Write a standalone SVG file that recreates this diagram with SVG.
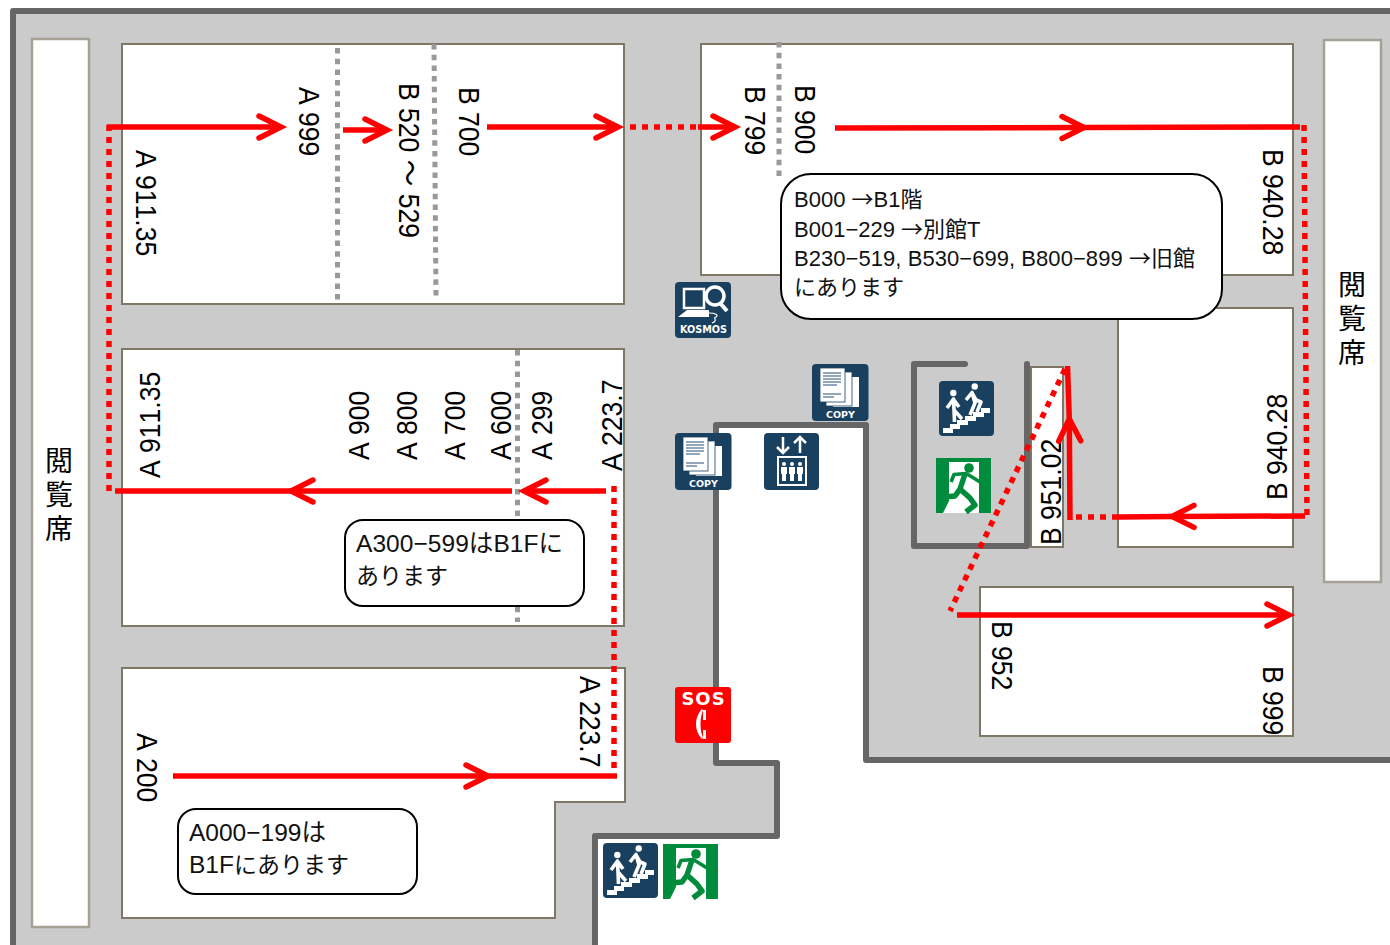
<svg xmlns="http://www.w3.org/2000/svg" width="1390" height="945" viewBox="0 0 1390 945">
<style>
.room{fill:#fff;stroke:#7f7766;stroke-width:2}
.seat{fill:#fff;stroke:#a5a197;stroke-width:2.500}
.wall{fill:none;stroke:#666;stroke-width:6;stroke-linejoin:round;stroke-linecap:round}
.sep{fill:none;stroke:#999;stroke-width:5;stroke-dasharray:5.500 5.200}
.solid{fill:none;stroke:#f00;stroke-width:5.500}
.dot{fill:none;stroke:#f00;stroke-width:5.500;stroke-dasharray:6 6}
.head{fill:none;stroke:#f00;stroke-width:5.500;stroke-linecap:round;stroke-linejoin:miter}
.lbl{font-family:"Liberation Sans",Arial,"Noto Sans CJK JP",sans-serif;font-size:30px;fill:#000;font-kerning:none}
.seatlbl{font-family:"Noto Sans CJK JP","Liberation Sans",sans-serif;font-size:28px;fill:#000;writing-mode:vertical-rl;letter-spacing:6px}
.note{fill:#fff;stroke:#000;stroke-width:2}
.ntxt{font-family:"Liberation Sans","Noto Sans CJK JP",sans-serif;font-size:22px;fill:#111}
.ntxt2{font-family:"Liberation Sans","Noto Sans CJK JP",sans-serif;font-size:24.500px;fill:#111}
.cjk{font-family:"Noto Sans CJK JP",sans-serif}
.j23{font-family:"Noto Sans CJK JP",sans-serif;font-size:23px}
.ibg{fill:#1a4060}
.ico{font-family:"DejaVu Sans",sans-serif;font-weight:bold;fill:#fff;text-anchor:middle}
</style>
<defs>
<marker id="arr" viewBox="-28 -16 32 32" refX="0" refY="0" markerWidth="32" markerHeight="32" markerUnits="userSpaceOnUse" orient="auto" overflow="visible">
<path class="head" d="M-22,-11 L0,0 L-22,11"/>
</marker>
<g id="copy">
<rect class="ibg" width="56.500" height="57" rx="4"/>
<rect x="21" y="13" width="26" height="30" fill="#fff"/>
<rect x="14" y="8" width="26" height="34" fill="#fff" stroke="#1a4060" stroke-width=".8"/>
<rect x="8" y="4" width="25" height="34" fill="#fff" stroke="#1a4060" stroke-width=".8"/>
<path d="M11,9H29M11,12H29M11,15H29M11,18H29M11,21H25M11,30H29M11,33H22" stroke="#6d8aa3" stroke-width="1.500" fill="none"/>
<text class="ico" x="28.500" y="53.500" font-size="9.500">COPY</text>
</g>
<g id="stairs">
<rect class="ibg" width="55" height="55" rx="4"/>
<path d="M4,52 L4,47 L11,47 L11,43 L18,43 L18,39 L26,39 L26,35 L34,35 L34,31 L42,31 L42,27 L51,27 L51,32 L45,32 L45,36 L37,36 L37,40 L29,40 L29,44 L21,44 L21,48 L14,48 L14,52 Z" fill="#fff"/>
<circle cx="14.300" cy="12" r="3.200" fill="#fff"/>
<circle cx="35.700" cy="5.500" r="3.200" fill="#fff"/>
<path d="M8,27 L14.500,18 L15,29 L15.500,41 M15,29 L23,38 M15,19 L20,26" fill="none" stroke="#fff" stroke-width="3.600" stroke-linejoin="round"/>
<path d="M27,19 L33,11.500 L36,22 L31,34 M33,12 L37,19 L42,21 L38,31" fill="none" stroke="#fff" stroke-width="3.600" stroke-linejoin="round"/>
</g>
<g id="exit">
<rect width="55" height="55" fill="#008c3c"/>
<path d="M13,4 H43 V55 H7 L13,43 Z" fill="#fff"/>
<circle cx="33" cy="10" r="4.800" fill="#008c3c"/>
<path d="M15,24 L18,16.500 L30,15.500 L36,19 L44,24" fill="none" stroke="#008c3c" stroke-width="3.600" stroke-linejoin="round"/>
<path d="M29,16 L24,31 L34,40 L39,47 L30,54 M24,31 L19,38 L8,39" fill="none" stroke="#008c3c" stroke-width="5.500" stroke-linejoin="round"/>
</g>
</defs>

<g id="floor">
<path d="M13,11 H1393 V760 H866 V425 H716 V763 H777 V836 H595 V948 H13 Z" fill="#cbcbcb" stroke="#666" stroke-width="6" stroke-linejoin="round"/>
<path class="wall" d="M965,364 H914 V546 H1027 V364"/>
</g>

<g id="seat-left"><rect class="seat" x="32" y="39" width="57" height="888"/>
<text class="seatlbl" x="59" y="446">閲覧席</text></g>
<g id="seat-right"><rect class="seat" x="1324" y="40" width="57" height="542"/>
<text class="seatlbl" x="1352" y="270">閲覧席</text></g>

<g id="shelf-a-upper"><rect class="room" x="122" y="44" width="502" height="260"/>
<path class="sep" d="M337.500,48V300"/><path class="sep" d="M434,44L436,300"/>
<text class="lbl" transform="translate(135.500,150) rotate(90) scale(.885,1)">A 911.35</text>
<text class="lbl" transform="translate(298.500,87) rotate(90) scale(.885,1)">A 999</text>
<text class="lbl" transform="translate(399,83) rotate(90) scale(.885,1)">B 520 <tspan class="cjk">～</tspan> 529</text>
<text class="lbl" transform="translate(459,87) rotate(90) scale(.885,1)">B 700</text></g>

<g id="shelf-b-upper"><rect class="room" x="701" y="44" width="592" height="231"/>
<path class="sep" d="M779,42V178"/>
<text class="lbl" transform="translate(745,86) rotate(90) scale(.885,1)">B 799</text>
<text class="lbl" transform="translate(795,85) rotate(90) scale(.885,1)">B 900</text>
<text class="lbl" transform="translate(1263,149) rotate(90) scale(.885,1)">B 940.28</text></g>

<g id="shelf-a-middle"><rect class="room" x="122" y="349" width="502" height="277"/>
<path class="sep" d="M517.500,350V622"/>
<text class="lbl" transform="translate(159.500,478) rotate(-90) scale(.885,1)">A 911.35</text>
<text class="lbl" transform="translate(369,460) rotate(-90) scale(.885,1)">A 900</text>
<text class="lbl" transform="translate(417,460) rotate(-90) scale(.885,1)">A 800</text>
<text class="lbl" transform="translate(465,460) rotate(-90) scale(.885,1)">A 700</text>
<text class="lbl" transform="translate(511,460) rotate(-90) scale(.885,1)">A 600</text>
<text class="lbl" transform="translate(552,460) rotate(-90) scale(.885,1)">A 299</text>
<text class="lbl" transform="translate(622,471) rotate(-90) scale(.885,1)">A 223.7</text></g>

<g id="shelf-a-lower"><path class="room" d="M122,668 H625 V802 H555 V918 H122 Z"/>
<text class="lbl" transform="translate(137,733) rotate(90) scale(.885,1)">A 200</text>
<text class="lbl" transform="translate(580,676) rotate(90) scale(.885,1)">A 223.7</text></g>

<g id="shelf-b-middle"><rect class="room" x="1118" y="308" width="175" height="239"/>
<text class="lbl" transform="translate(1287,500) rotate(-90) scale(.885,1)">B 940.28</text></g>

<g id="shelf-b-951"><rect class="room" x="1031" y="367" width="32" height="180"/>
<text class="lbl" transform="translate(1061,545) rotate(-90) scale(.885,1)">B 951.02</text></g>

<g id="shelf-b-lower"><rect class="room" x="980" y="587" width="313" height="149"/>
<text class="lbl" transform="translate(992,621) rotate(90) scale(.885,1)">B 952</text>
<text class="lbl" transform="translate(1263,666) rotate(90) scale(.885,1)">B 999</text></g>

<g id="connectors">
<path class="dot" d="M109,125V491"/>
<path class="solid" d="M107,127H281" marker-end="url(#arr)"/>
<path class="solid" d="M343,130H387" marker-end="url(#arr)"/>
<path class="solid" d="M487,127H618" marker-end="url(#arr)"/>
<path class="dot" d="M630,127H697"/>
<path class="solid" d="M698,127H735" marker-end="url(#arr)"/>
<path class="solid" d="M835,128L1084,127.500L1300,127" marker-mid="url(#arr)"/>
<path class="dot" d="M1304,125L1307,515"/>
<path class="solid" d="M1305,516L1172,516.500L1118,517" marker-mid="url(#arr)"/>
<path class="dot" d="M1118,517H1072"/>
<path class="solid" d="M1070,520L1069.300,419L1067.500,366" marker-mid="url(#arr)"/>
<path class="dot" d="M1065,369L950,611"/>
<path class="solid" d="M957,615H1289" marker-end="url(#arr)"/>
<path class="solid" d="M606,491H524" marker-end="url(#arr)"/>
<path class="solid" d="M512,491L291,491L115,491" marker-mid="url(#arr)"/>
<path class="dot" d="M614,486V776"/>
<path class="solid" d="M173,776L488,776L617,776" marker-mid="url(#arr)"/>
</g>

<g id="note-b"><rect class="note" x="781" y="174" width="441" height="145" rx="30"/>
<text class="ntxt" x="794" y="207">B000 <tspan class="cjk">→</tspan>B1階</text>
<text class="ntxt" x="794" y="237">B001−229 <tspan class="cjk">→</tspan>別館T</text>
<text class="ntxt" x="794" y="266" textLength="401">B230−519, B530−699, B800−899 <tspan class="cjk">→</tspan>旧館</text>
<text class="ntxt" x="794" y="295">にあります</text></g>
<g id="note-a300"><rect class="note" x="345" y="520" width="239" height="86" rx="18"/>
<text class="ntxt2" x="356" y="552" textLength="207">A300−599はB1Fに</text>
<text class="ntxt2 j23" x="356" y="584">あります</text></g>
<g id="note-a000"><rect class="note" x="178" y="809" width="239" height="85" rx="18"/>
<text class="ntxt2" x="189" y="841">A000−199は</text>
<text class="ntxt2" x="189" y="873">B1F<tspan class="j23">にあります</tspan></text></g>

<g id="icon-kosmos" transform="translate(675,282)">
<rect class="ibg" width="56" height="56" rx="4"/>
<path d="M9,7H29V26H9Z" fill="none" stroke="#fff" stroke-width="2.500"/>
<path d="M3,35L12,28H34V35Z" fill="#fff"/>
<circle cx="40" cy="14" r="9" fill="#1a4060" stroke="#fff" stroke-width="3.500"/>
<path d="M45,21L52,29" stroke="#fff" stroke-width="4" fill="none"/>
<path d="M34,31C40,31 44,33 41,35C37,36 44,38 37,41" stroke="#fff" stroke-width="1.200" fill="none"/>
<text class="ico" x="28.500" y="51" font-size="9.700">KOSMOS</text>
</g>
<g id="icon-copy-1"><use href="#copy" x="812" y="364"/></g>
<g id="icon-copy-2"><use href="#copy" x="675" y="433"/></g>
<g id="icon-elevator" transform="translate(764,433)">
<rect class="ibg" width="55" height="57" rx="4"/>
<path d="M19,4V20M13,14L19,20L25,14M36,20V4M30,10L36,4L42,10" fill="none" stroke="#fff" stroke-width="2.500"/>
<rect x="14" y="24" width="28" height="28" fill="none" stroke="#fff" stroke-width="2"/>
<g fill="#fff"><circle cx="20" cy="31" r="2"/><circle cx="28" cy="31" r="2"/><circle cx="36" cy="31" r="2"/>
<path d="M17,34H23V41H22V48H18V41H17ZM25,34H31V41H30V48H26V41H25ZM33,34H39V41H38V48H34V41H33Z"/></g>
</g>
<g id="icon-stairs-1"><use href="#stairs" x="939" y="381"/></g>
<g id="icon-exit-1"><use href="#exit" x="936" y="458"/></g>
<g id="icon-sos" transform="translate(675,687)">
<rect width="56" height="56" rx="3" fill="#f00"/>
<text class="ico" x="28.500" y="18" font-size="18" letter-spacing="1">SOS</text>
<path d="M27,22C23,26 21,32 21,37C21,43 23,48 27,52L28,51C26,46 25.500,41 25.500,37C25.500,33 26,28 28,23Z" fill="#fff"/>
<rect x="28" y="23" width="3" height="10" fill="#fff"/><rect x="28" y="43" width="3" height="9" fill="#fff"/>
</g>
<g id="icon-stairs-2"><use href="#stairs" x="603" y="843"/></g>
<g id="icon-exit-2"><use href="#exit" x="663" y="844"/></g>
</svg>
